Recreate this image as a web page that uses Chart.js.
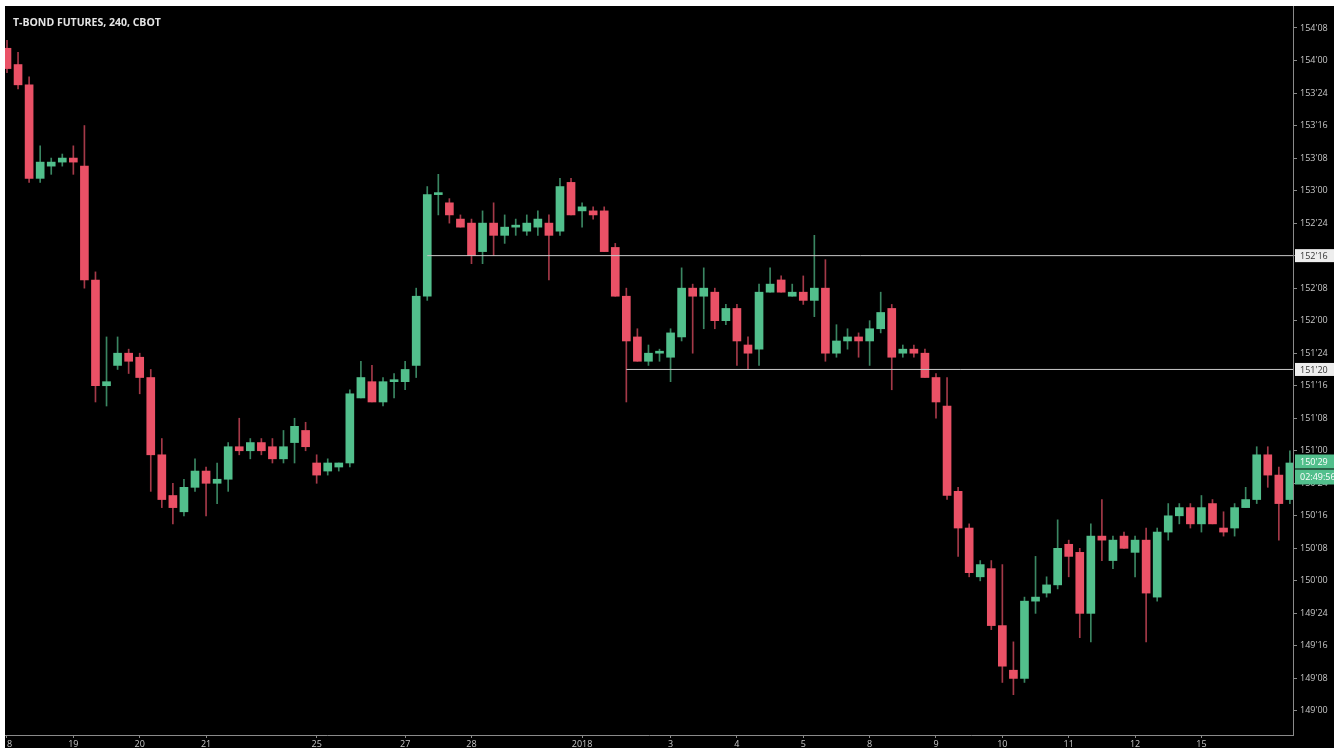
<!DOCTYPE html>
<html>
<head>
<meta charset="utf-8">
<title>T-Bond futures 240</title>
<script src="https://cdn.jsdelivr.net/npm/chart.js@4.4.1/dist/chart.umd.min.js"></script>
<style>
  html, body { margin: 0; background: #fff; }
  #wrap { position: absolute; left: 5px; top: 6px; width: 1329px; height: 742px; background: #000; overflow: hidden; }
  #myChart { position: absolute; left: 0; top: 0; }
  #title { position: absolute; left: 8px; top: 9px; color: #e4e4e4; font: bold 10.5px "Open Sans", sans-serif; }
</style>
</head>
<body>
<div id="wrap">
  <canvas id="myChart" width="1329" height="742"></canvas>
  <div id="title">T-BOND FUTURES, 240, CBOT</div>
</div>
<script>
// 240 minute candles, prices in points (1/32 = 0.03125)
const opens = [
  154.094, 153.969, 153.813, 153.094, 153.188, 153.219, 153.25, 153.188, 152.313, 151.5,
  151.656, 151.75, 151.719, 151.563, 150.969, 150.656, 150.531, 150.719, 150.844, 150.75,
  150.781, 151.031, 151.0, 151.063, 151.031, 150.938, 151.063, 151.156, 150.906, 150.844,
  150.875, 150.906, 151.406, 151.531, 151.375, 151.531, 151.531, 151.656, 152.188, 152.969,
  152.906, 152.781, 152.75, 152.531, 152.75, 152.656, 152.719, 152.688, 152.719, 152.75,
  152.688, 153.063, 152.844, 152.844, 152.844, 152.563, 152.188, 151.875, 151.688, 151.75,
  151.719, 151.875, 152.25, 152.188, 152.219, 152.0, 152.094, 151.813, 151.781, 152.219,
  152.313, 152.188, 152.219, 152.156, 152.25, 151.75, 151.844, 151.875, 151.844, 151.938,
  152.094, 151.75, 151.781, 151.75, 151.563, 151.344, 150.688, 150.406, 150.031, 150.094,
  149.656, 149.313, 149.25, 149.844, 149.906, 149.969, 150.281, 150.219, 149.75, 150.344,
  150.156, 150.344, 150.219, 150.313, 149.875, 150.375, 150.5, 150.563, 150.438, 150.594,
  150.406, 150.406, 150.563, 150.625, 150.969, 150.813, 150.625
];
const highs = [
  154.156, 154.063, 153.875, 153.344, 153.25, 153.281, 153.344, 153.5, 152.375, 151.875,
  151.875, 151.781, 151.75, 151.625, 151.094, 150.75, 150.781, 150.938, 150.875, 150.906,
  151.063, 151.25, 151.094, 151.094, 151.094, 151.156, 151.25, 151.219, 150.969, 150.938,
  150.906, 151.469, 151.688, 151.656, 151.563, 151.594, 151.688, 152.25, 153.031, 153.125,
  152.938, 152.813, 152.781, 152.844, 152.906, 152.813, 152.781, 152.813, 152.844, 152.813,
  153.094, 153.094, 152.906, 152.875, 152.875, 152.594, 152.25, 151.938, 151.813, 151.781,
  151.938, 152.406, 152.281, 152.406, 152.25, 152.125, 152.125, 151.875, 152.281, 152.406,
  152.344, 152.281, 152.344, 152.656, 152.469, 151.969, 151.938, 151.906, 152.0, 152.219,
  152.125, 151.813, 151.813, 151.781, 151.594, 151.563, 150.719, 150.438, 150.156, 150.156,
  150.125, 149.531, 149.875, 150.188, 150.031, 150.469, 150.313, 150.25, 150.438, 150.625,
  150.344, 150.375, 150.344, 150.406, 150.406, 150.594, 150.594, 150.594, 150.656, 150.625,
  150.531, 150.594, 150.719, 151.031, 151.031, 150.875, 151.0
];
const lows = [
  153.906, 153.781, 153.063, 153.063, 153.125, 153.188, 153.125, 152.25, 151.375, 151.344,
  151.625, 151.594, 151.438, 150.688, 150.563, 150.438, 150.5, 150.688, 150.5, 150.594,
  150.688, 150.969, 150.938, 150.969, 150.906, 150.906, 150.906, 151.0, 150.75, 150.813,
  150.844, 150.875, 151.406, 151.375, 151.344, 151.406, 151.469, 151.563, 152.156, 152.813,
  152.75, 152.719, 152.438, 152.438, 152.5, 152.594, 152.656, 152.656, 152.656, 152.313,
  152.656, 152.813, 152.719, 152.781, 152.531, 152.188, 151.375, 151.688, 151.656, 151.688,
  151.531, 151.844, 151.75, 151.938, 151.938, 151.969, 151.656, 151.625, 151.656, 152.219,
  152.219, 152.188, 152.125, 152.031, 151.688, 151.719, 151.781, 151.719, 151.656, 151.906,
  151.469, 151.719, 151.719, 151.563, 151.25, 150.625, 150.188, 150.031, 150.0, 149.625,
  149.219, 149.125, 149.219, 149.75, 149.875, 149.938, 150.031, 149.563, 149.531, 150.156,
  150.094, 150.25, 150.031, 149.531, 149.844, 150.313, 150.438, 150.406, 150.375, 150.438,
  150.344, 150.344, 150.563, 150.594, 150.719, 150.313, 150.594
];
const closes = [
  153.938, 153.813, 153.094, 153.219, 153.219, 153.25, 153.219, 152.313, 151.5, 151.531,
  151.75, 151.688, 151.563, 150.969, 150.625, 150.563, 150.719, 150.844, 150.75, 150.781,
  151.031, 151.0, 151.063, 151.0, 150.938, 151.031, 151.188, 151.031, 150.813, 150.906,
  150.906, 151.438, 151.563, 151.375, 151.531, 151.531, 151.625, 152.188, 152.969, 152.969,
  152.813, 152.719, 152.5, 152.75, 152.656, 152.719, 152.719, 152.75, 152.781, 152.656,
  153.031, 152.813, 152.875, 152.813, 152.531, 152.188, 151.844, 151.688, 151.75, 151.75,
  151.906, 152.25, 152.188, 152.25, 152.0, 152.094, 151.844, 151.75, 152.219, 152.281,
  152.219, 152.219, 152.156, 152.25, 151.75, 151.844, 151.875, 151.844, 151.938, 152.063,
  151.719, 151.781, 151.75, 151.563, 151.375, 150.656, 150.406, 150.063, 150.125, 149.656,
  149.344, 149.25, 149.844, 149.875, 149.969, 150.25, 150.188, 149.75, 150.344, 150.313,
  150.313, 150.25, 150.313, 149.906, 150.375, 150.5, 150.563, 150.438, 150.563, 150.438,
  150.375, 150.563, 150.625, 150.969, 150.813, 150.594, 150.906
];

// x-axis day labels and the candle index where each day starts
const dayTicks = [0, 6, 12, 18, 28, 36, 42, 52, 60, 66, 72, 78, 84, 90, 96, 102, 108];
const dayLabels = ["18", "19", "20", "21", "25", "27", "28", "2018", "3", "4", "5", "8", "9", "10", "11", "12", "15"];

// horizontal levels drawn on the chart: price and the candle they start at
const levelPrices = [152.5, 151.625];
const levelStarts = [38, 56];
const timerText = "02:49:56";

const upColor = "#52bf8c";
const downColor = "#ea5166";
const upWick = "rgba(82, 191, 140, 0.7)";
const downWick = "rgba(234, 81, 102, 0.7)";

const toQuote = (v) => {
  let whole = Math.floor(v + 1e-6);
  let frac = Math.round((v - whole) * 32);
  if (frac === 32) {
    whole += 1;
    frac = 0;
  }
  return `${whole}'${String(frac).padStart(2, "0")}`;
};

const isUp = opens.map((o, i) => closes[i] >= o);

const wickData = lows.map((lo, i) => ({ x: i, y: [lo, highs[i]] }));
const bodyData = opens.map((o, i) => ({ x: i, y: [o, closes[i]] }));

const levelSets = levelPrices.map((p, k) => ({
  type: "line",
  data: [
    { x: levelStarts[k], y: p },
    { x: opens.length + 5, y: p },
  ],
  borderColor: "#c9c9c9",
  borderWidth: 1,
  pointRadius: 0,
  order: 0,
}));

const priceTags = {
  id: "priceTags",
  afterDraw(chart) {
    const { ctx, chartArea } = chart;
    const yScale = chart.scales.y;
    const left = chartArea.right + 2;
    const drawTag = (py, text, bg, fg, h) => {
      ctx.save();
      ctx.fillStyle = bg;
      ctx.fillRect(left, py - h / 2, chart.width - left, h);
      ctx.fillStyle = fg;
      ctx.font = '9px "Open Sans", sans-serif';
      ctx.textBaseline = "middle";
      ctx.textAlign = "left";
      ctx.fillText(text, left + 5, py + 0.5);
      ctx.restore();
    };
    levelPrices.forEach((p) => {
      drawTag(yScale.getPixelForValue(p), toQuote(p), "#eeeeee", "#333333", 13);
    });
    const last = closes[closes.length - 1];
    const lastY = yScale.getPixelForValue(last) - 1.5;
    drawTag(lastY, toQuote(last), upColor, "#ffffff", 14);
    drawTag(lastY + 15.5, timerText, upColor, "#ffffff", 15);
  },
};

const axisFont = { family: "'Open Sans', sans-serif", size: 9 };

const noPadding = (scale) => {
  scale.paddingTop = 0;
  scale.paddingBottom = 0;
  scale.paddingLeft = 0;
  scale.paddingRight = 0;
};

const myChart = new Chart(document.getElementById("myChart"), {
  type: "bar",
  data: {
    datasets: [
      ...levelSets,
      {
        data: wickData,
        backgroundColor: isUp.map((u) => (u ? upWick : downWick)),
        barThickness: 1,
        grouped: false,
        order: 2,
      },
      {
        data: bodyData,
        backgroundColor: isUp.map((u) => (u ? upColor : downColor)),
        barThickness: 8,
        minBarLength: 2,
        grouped: false,
        order: 1,
      },
    ],
  },
  options: {
    responsive: false,
    animation: false,
    events: [],
    layout: { autoPadding: false, padding: 0 },
    plugins: {
      legend: { display: false },
      tooltip: { enabled: false },
    },
    scales: {
      x: {
        type: "linear",
        min: -0.18,
        max: 116.28,
        offset: false,
        grid: { offset: false, drawOnChartArea: false, drawTicks: true, tickLength: 3, color: "#8a8a8a" },
        border: { display: true, color: "#8a8a8a" },
        ticks: {
          autoSkip: false,
          maxRotation: 0,
          padding: 1,
          color: "#c8c8c8",
          font: axisFont,
          callback: (v) => dayLabels[dayTicks.indexOf(v)] ?? "",
        },
        afterBuildTicks: (scale) => {
          scale.ticks = dayTicks.map((v) => ({ value: v }));
        },
        afterFit: (scale) => {
          scale.height = 13;
          noPadding(scale);
        },
      },
      y: {
        position: "right",
        min: 148.815,
        max: 154.419,
        grid: { drawOnChartArea: false, drawTicks: true, tickLength: 4, color: "#8a8a8a" },
        border: { display: true, color: "#8a8a8a" },
        ticks: {
          stepSize: 0.25,
          maxTicksLimit: 40,
          includeBounds: false,
          padding: 3,
          color: "#c8c8c8",
          font: axisFont,
          callback: (v) => toQuote(v),
        },
        afterFit: (scale) => {
          scale.width = 41;
          noPadding(scale);
        },
      },
    },
  },
  plugins: [priceTags],
});
</script>
</body>
</html>
